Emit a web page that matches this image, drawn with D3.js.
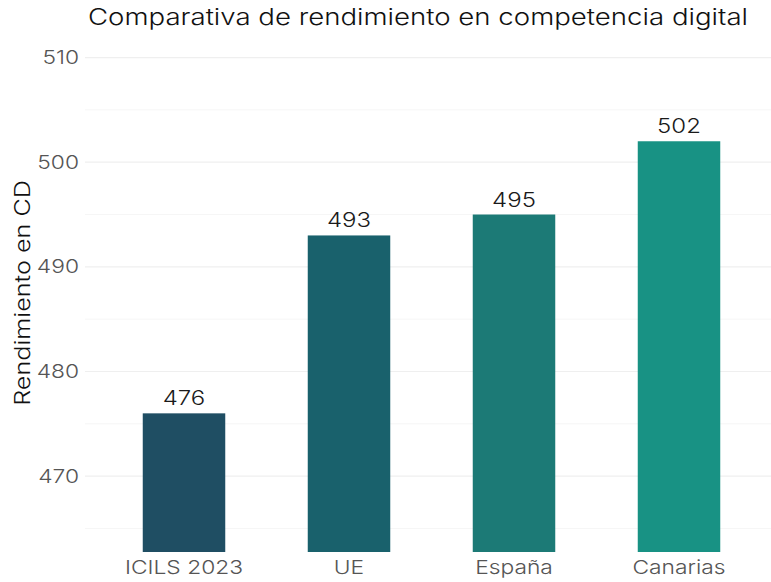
<!DOCTYPE html>
<html>
<head>
<meta charset="utf-8">
<script src="https://cdn.jsdelivr.net/npm/d3@7"></script>
<style>
  body { margin: 0; background: #fff; }
  text { font-family: Inter, "Open Sans", sans-serif; }
</style>
</head>
<body>
<div id="chart"></div>
<script>
// data
const categories = ["ICILS 2023", "UE", "España", "Canarias"];
const values = [476, 493, 495, 502];
const barColors = ["#1f4e63", "#19616c", "#1c7a76", "#189284"];
const majorTicks = [470, 480, 490, 500, 510];
const minorTicks = [465, 475, 485, 495, 505];

const width = 771, height = 582;
const margin = {top: 34, right: -7, bottom: 30, left: 85};

// the reference font (Montserrat) is wider than Inter, so stretch text a bit
const widen = 1.2;
function stretch(sel) {
    sel.each(function () {
        let w = this.getComputedTextLength();
        d3.select(this)
            .attr("textLength", w * widen)
            .attr("lengthAdjust", "spacingAndGlyphs");
    });
}

let svg = d3.select("#chart").append("svg")
    .attr("width", width)
    .attr("height", height);

let x = d3.scaleBand()
    .domain(categories)
    .range([margin.left, width - margin.right])
    .paddingInner(0.5)
    .paddingOuter(0.35);

let y = d3.scaleLinear()
    .domain([462.75, 512.25])
    .range([height - margin.bottom, margin.top]);

// grid
svg.append("g").selectAll("line")
    .data(minorTicks)
    .enter().append("line")
    .attr("x1", margin.left).attr("x2", width)
    .attr("y1", d => y(d)).attr("y2", d => y(d))
    .style("stroke", "#f6f6f6")
    .style("stroke-width", 1);

svg.append("g").selectAll("line")
    .data(majorTicks)
    .enter().append("line")
    .attr("x1", margin.left).attr("x2", width)
    .attr("y1", d => y(d)).attr("y2", d => y(d))
    .style("stroke", "#efefef")
    .style("stroke-width", 1.2);

// y axis labels
let yAxis = d3.axisLeft(y).tickValues(majorTicks).tickSize(0).tickPadding(6);
let gy = svg.append("g")
    .attr("transform", "translate(" + margin.left + ",0)")
    .call(yAxis);
gy.select(".domain").remove();
gy.selectAll("text")
    .style("font-family", "Inter, sans-serif")
    .style("font-size", "19px")
    .style("font-weight", 300)
    .style("fill", "#555")
    .call(stretch);

// bars
svg.selectAll(".bar")
    .data(values)
    .enter().append("rect")
    .attr("class", "bar")
    .attr("x", (d, i) => x(categories[i]))
    .attr("y", d => y(d))
    .attr("width", x.bandwidth())
    .attr("height", d => y.range()[0] - y(d))
    .style("fill", (d, i) => barColors[i]);

// value labels
svg.selectAll(".val")
    .data(values)
    .enter().append("text")
    .attr("class", "val")
    .attr("x", (d, i) => x(categories[i]) + x.bandwidth() / 2)
    .attr("y", d => y(d) - 8)
    .attr("text-anchor", "middle")
    .style("font-size", "20px")
    .style("font-weight", 300)
    .style("fill", "#1a1a1a")
    .text(d => d)
    .call(stretch);

// x axis labels
let xAxis = d3.axisBottom(x).tickSize(0).tickPadding(9);
let gx = svg.append("g")
    .attr("transform", "translate(0," + (height - margin.bottom) + ")")
    .call(xAxis);
gx.select(".domain").remove();
gx.selectAll("text")
    .style("font-family", "Inter, sans-serif")
    .style("font-size", "19px")
    .style("font-weight", 300)
    .style("fill", "#555")
    .call(stretch);

// title
svg.append("text")
    .attr("x", 418)
    .attr("y", 25)
    .attr("text-anchor", "middle")
    .style("font-size", "23px")
    .style("font-weight", 300)
    .style("fill", "#111")
    .text("Comparativa de rendimiento en competencia digital")
    .call(stretch);

// y axis title
svg.append("text")
    .attr("transform", "translate(30," + (y(487.5)) + "), rotate(-90)")
    .attr("text-anchor", "middle")
    .style("font-size", "21px")
    .style("font-weight", 300)
    .style("fill", "#111")
    .text("Rendimiento en CD")
    .call(stretch);
</script>
</body>
</html>
